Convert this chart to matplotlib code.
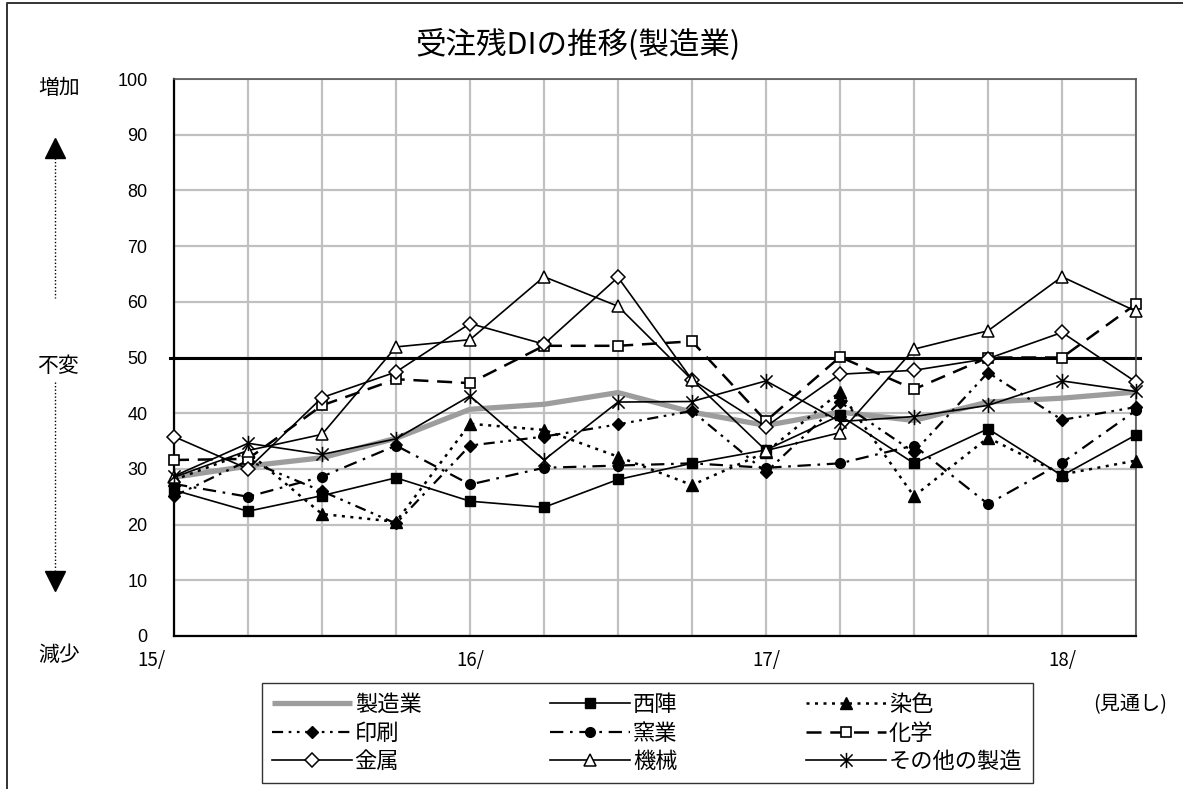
import numpy as np
import matplotlib
matplotlib.use("Agg")
import matplotlib.pyplot as plt
from matplotlib.path import Path
from matplotlib.lines import Line2D

plt.rcParams['font.family'] = ['Noto Sans CJK JP', 'DejaVu Sans']

# quarterly survey points, 2015 Q1 .. 2018 Q2 (last point is the outlook)
year_labels = ["15/", "16/", "17/", "18/"]
year_index = [0, 4, 8, 12]

seizogyo = [28.5, 30.5, 32.0, 35.5, 40.7, 41.6, 43.7, 40.2, 37.8, 40.2, 38.7, 42.0, 42.7, 43.8]
nishijin = [26.2, 22.4, 25.2, 28.4, 24.2, 23.1, 28.1, 31.0, 33.4, 39.6, 31.0, 37.2, 28.8, 36.1]
senshoku = [28.0, 33.0, 21.9, 20.5, 38.1, 37.0, 32.2, 27.1, 33.0, 43.8, 25.1, 35.6, 29.0, 31.5]
insatsu = [25.1, 31.5, 26.0, 20.2, 34.2, 35.8, 38.0, 40.4, 29.4, 42.0, 33.0, 47.3, 38.8, 41.1]
yogyo = [27.3, 25.0, 28.6, 34.2, 27.2, 30.2, 30.6, 31.0, 30.2, 31.0, 34.2, 23.7, 31.1, 40.5]
kagaku = [31.6, 31.8, 41.4, 46.1, 45.4, 52.1, 52.1, 52.9, 38.6, 50.1, 44.3, 50.0, 50.0, 59.6]
kinzoku = [35.8, 30.0, 42.8, 47.4, 56.1, 52.4, 64.4, 46.0, 37.6, 47.0, 47.7, 49.8, 54.5, 45.6]
kikai = [28.5, 33.3, 36.2, 51.9, 53.2, 64.5, 59.2, 46.0, 33.3, 36.5, 51.5, 54.8, 64.5, 58.3]
sonota = [28.7, 34.6, 32.6, 35.4, 43.1, 31.6, 42.0, 42.1, 45.8, 38.5, 39.4, 41.4, 45.8, 43.9]

W, H = 1183, 789


def fx(px):
    return px / W


def fy(py):
    return 1 - py / H


fig = plt.figure(figsize=(W / 100, H / 100), dpi=100)
fig.patch.set_facecolor("white")
ax = fig.add_axes([fx(174), fy(636), (1136 - 174) / W, (636 - 79) / H])

x = np.arange(len(seizogyo))
ax.set_xlim(0, len(x) - 1)
ax.set_ylim(0, 100)

# grid
ax.set_xticks(x)
ax.set_xticklabels([])
ax.set_yticks(np.arange(0, 101, 10))
ax.grid(True, color="#c0c0c0", linewidth=1.6, zorder=0)
ax.set_axisbelow(True)
ax.tick_params(axis="x", length=0)
ax.tick_params(axis="y", length=0, pad=19, labelsize=13)
for lab in ax.get_yticklabels():
    lab.set_fontfamily(["Liberation Sans", "DejaVu Sans"])

for side in ("left", "bottom"):
    ax.spines[side].set_color("black")
    ax.spines[side].set_linewidth(1.6)
for side in ("top", "right"):
    ax.spines[side].set_color("#555555")
    ax.spines[side].set_linewidth(1.2)

# reference line at 50 (no change)
ax.plot([-0.05, len(x) - 1 + 0.05], [50, 50], color="black", linewidth=2.2,
        clip_on=False, zorder=2)

star = Path([(0, -1), (0, 1), (-0.8, -0.8), (0.8, 0.8), (-0.8, 0.8), (0.8, -0.8)],
            [Path.MOVETO, Path.LINETO] * 3)

common = dict(color="black", clip_on=False)
h = {}
h["製造業"], = ax.plot(x, seizogyo, color="#9d9d9d", linewidth=3.8, clip_on=False,
                      zorder=3, solid_capstyle="butt")
h["西陣"], = ax.plot(x, nishijin, linestyle="-", linewidth=1.2, marker="s",
                    markersize=7, markerfacecolor="black", zorder=4, **common)
h["染色"], = ax.plot(x, senshoku, linestyle=(0, (1.2, 2.2)), linewidth=1.8, marker="^",
                    markersize=8, markerfacecolor="black", zorder=4, **common)
h["印刷"], = ax.plot(x, insatsu, linestyle=(0, (5, 2.5, 1.2, 2.5, 1.2, 2.5)), linewidth=1.6,
                    marker="D", markersize=6.5, markerfacecolor="black", zorder=4, **common)
h["窯業"], = ax.plot(x, yogyo, linestyle=(0, (6, 3, 1.2, 3)), linewidth=1.6, marker="o",
                    markersize=7, markerfacecolor="black", zorder=4, **common)
h["化学"], = ax.plot(x, kagaku, linestyle=(0, (6, 3.5)), linewidth=1.8, marker="s",
                    markersize=7.5, markerfacecolor="white", markeredgewidth=1.2,
                    zorder=5, **common)
h["金属"], = ax.plot(x, kinzoku, linestyle="-", linewidth=1.2, marker="D",
                    markersize=7, markerfacecolor="white", markeredgewidth=1.1,
                    zorder=5, **common)
h["機械"], = ax.plot(x, kikai, linestyle="-", linewidth=1.2, marker="^",
                    markersize=9, markerfacecolor="white", markeredgewidth=1.1,
                    zorder=5, **common)
h["その他の製造"], = ax.plot(x, sonota, linestyle="-", linewidth=1.2, marker=star,
                         markersize=11, markerfacecolor="none", markeredgewidth=1.1,
                         zorder=6, **common)

# year labels under the category axis
for i, (idx, lab) in enumerate(zip(year_index, year_labels)):
    xoff = -0.3 if i == 0 else 0.0
    ax.text(idx + xoff, -2.6, lab, ha="center", va="top", fontsize=13.5)

# title
fig.text(fx(578), fy(45), "受注残DIの推移(製造業)", ha="center", va="center", fontsize=22)

# left side guide: increase / no change / decrease
fig.text(fx(59), fy(88), "増加", ha="center", va="center", fontsize=15)
fig.text(fx(58), fy(366), "不変", ha="center", va="center", fontsize=15)
fig.text(fx(59), fy(655), "減少", ha="center", va="center", fontsize=15)
fig.add_artist(Line2D([fx(55), fx(55)], [fy(158), fy(298)], color="black",
                      linestyle=(0, (1, 1.5)), linewidth=1.0))
fig.add_artist(Line2D([fx(55), fx(55)], [fy(382), fy(570)], color="black",
                      linestyle=(0, (1, 1.5)), linewidth=1.0))
fig.add_artist(Line2D([fx(55)], [fy(148)], marker="^", markersize=14,
                      color="black", linestyle="none"))
fig.add_artist(Line2D([fx(55)], [fy(581)], marker="v", markersize=14,
                      color="black", linestyle="none"))

# outer frame
fig.add_artist(Line2D([fx(7), fx(7), fx(1183)], [fy(789), fy(3), fy(3)],
                      color="#333333", linewidth=1.4))

# legend (column-major fill gives row order 製造業 西陣 染色 / 印刷 窯業 化学 / 金属 機械 その他)
order = ["製造業", "印刷", "金属", "西陣", "窯業", "機械", "染色", "化学", "その他の製造"]
leg = fig.legend([h[k] for k in order], order, ncol=3, loc="upper left",
                 bbox_to_anchor=(fx(262), fy(683)), fontsize=16, frameon=True,
                 fancybox=False, edgecolor="black", handlelength=3.6,
                 handletextpad=0.12, columnspacing=5.8, labelspacing=0.25,
                 borderpad=0.45, borderaxespad=0)
leg.get_frame().set_linewidth(1.0)

fig.text(fx(1130), fy(705), "(見通し)", ha="center", va="center", fontsize=14.5)

fig.savefig("out.png", dpi=100)
